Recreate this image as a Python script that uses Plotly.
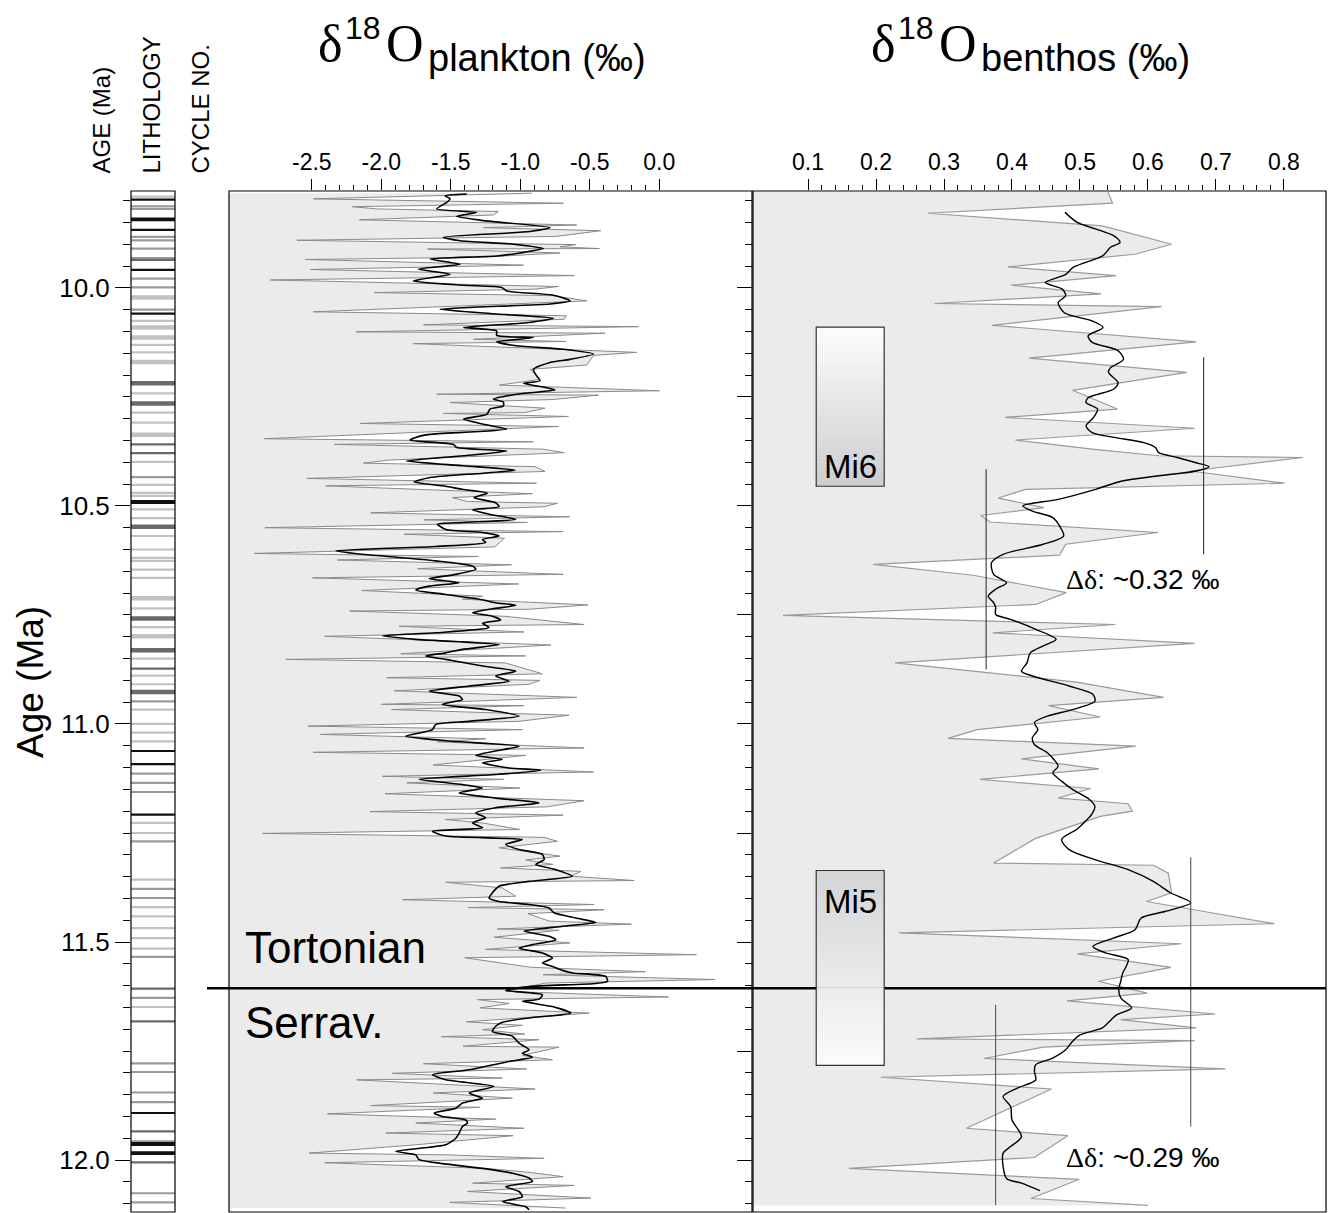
import plotly.graph_objects as go

W, H = 1328, 1213

# ---------------- data ----------------
# Planktonic d18O, raw samples
plank_raw_age = [
    9.783, 9.796, 9.806, 9.814, 9.819, 9.825, 9.833, 9.844, 9.856, 9.862, 9.869, 9.882, 9.891, 9.901,
    9.906, 9.910, 9.911, 9.920, 9.930, 9.935, 9.948, 9.958, 9.972, 9.982, 9.997, 10.003, 10.011, 10.018,
    10.030, 10.055, 10.064, 10.072, 10.085, 10.089, 10.101, 10.104, 10.118, 10.123, 10.128, 10.148, 10.155,
    10.177, 10.187, 10.210, 10.223, 10.236, 10.244, 10.246, 10.256, 10.263, 10.276, 10.286, 10.288, 10.295,
    10.311, 10.318, 10.346, 10.353, 10.359, 10.370, 10.378, 10.395, 10.402, 10.410, 10.421, 10.437,
    10.448, 10.454, 10.472, 10.481, 10.490, 10.494, 10.502, 10.516, 10.525, 10.532, 10.538, 10.550, 10.559,
    10.565, 10.574, 10.594, 10.609, 10.616, 10.624, 10.635, 10.644, 10.657, 10.665, 10.679, 10.694, 10.707,
    10.714, 10.727, 10.737, 10.741, 10.753, 10.772, 10.776, 10.789, 10.799, 10.819, 10.839, 10.844, 10.852,
    10.860, 10.885, 10.894, 10.900, 10.909, 10.924, 10.939, 10.955, 10.958, 10.967, 10.980, 10.994, 11.005,
    11.013, 11.024, 11.034, 11.041, 11.055, 11.065, 11.072, 11.094, 11.110, 11.120, 11.127, 11.135, 11.147,
    11.160, 11.176, 11.190, 11.201, 11.209, 11.219, 11.227, 11.242, 11.251, 11.260,
    11.269, 11.284, 11.303, 11.312, 11.322, 11.330, 11.338, 11.349, 11.359, 11.363, 11.376, 11.395, 11.403,
    11.414, 11.421, 11.426, 11.435, 11.452, 11.459, 11.470, 11.473, 11.489, 11.502, 11.517, 11.529, 11.536,
    11.558, 11.568, 11.575, 11.586, 11.594, 11.613, 11.618, 11.626, 11.632, 11.641, 11.651, 11.663, 11.683,
    11.691, 11.701, 11.711, 11.717, 11.724, 11.739, 11.741, 11.760, 11.770, 11.779, 11.791, 11.801, 11.812,
    11.816, 11.837, 11.846, 11.858, 11.875, 11.879, 11.894, 11.906, 11.915, 11.927, 11.938, 11.944, 11.965,
    11.984, 11.988, 11.996, 12.006, 12.019, 12.028, 12.038, 12.053, 12.058, 12.072, 12.087, 12.097, 12.110,
]
plank_raw_d18o = [
    -0.918, -2.488, -0.690, -2.208, -2.033, -1.158, -1.194, -2.158, -0.594, -1.265, -0.421, -0.738, -2.608, -0.601,
    -0.714, -0.431, -1.668, -0.714, -1.289, -2.548, -0.978, -2.512, -0.611, -2.800, -0.726, -0.894, -2.050, -0.762,
    -0.522, -2.488, -0.671, -0.683, -1.697, -0.150, -2.182, -0.390, -1.337, -0.671, -1.769, -0.162, -0.474,
    -0.522, -0.930, -0.858, -1.150, 0.001, -1.601, -0.438, -0.762, -1.505, -0.822, -0.966, -1.553, -0.654,
    -2.153, -0.726, -2.841, -0.906, -2.337, -0.834, -0.683, -1.949, -2.129, -0.894, -0.822, -2.536,
    -0.884, -2.400, -0.913, -1.488, -1.380, -0.733, -0.829, -2.076, -0.644, -1.692, -0.949, -2.838, -0.692,
    -1.836, -1.114, -1.184, -2.915, -1.301, -2.316, -1.064, -1.740, -0.692, -2.495, -1.014, -2.141, -1.272,
    -1.416, -0.512, -0.937, -2.227, -1.117, -0.541, -1.872, -0.973, -2.407, -0.781, -1.860, -0.961, -2.687,
    -1.109, -0.841, -1.961, -0.860, -0.937, -1.908, -0.594, -1.999, -0.973, -1.927, -0.649, -1.009, -2.527,
    -0.985, -2.440, -1.249, -1.596, -0.541, -2.491, -0.961, -1.627, -0.474, -1.992, -1.121, -1.817, -1.002,
    -1.973, -0.541, -0.805, -2.081, -0.692, -1.541, -1.272, -1.002, -2.855, -0.829,
    -0.733, -1.153, -0.714, -0.961, -0.764, -1.141, -0.565, -0.637, -0.181, -1.536, -1.129, -1.033, -1.848,
    -0.469, -1.373, -0.397, -0.944, -0.793, -0.201, -1.165, -0.721, -1.189, -0.644, -1.253, 0.267, -1.400,
    -0.920, -0.102, -0.836, 0.399, -0.817, -1.105, -0.649, 0.066, -1.308, -1.081, -1.289, -0.505, -1.388,
    -0.985, -1.272, -0.968, -1.567, -0.865, -1.412, -0.721, -0.985, -0.769, -1.697, -0.954, -1.920, -1.129,
    -2.177, -0.894, -1.627, -1.057, -2.076, -1.292, -2.388, -1.177, -1.752, -0.973, -1.968, -1.052, -1.752,
    -2.519, -1.524, -0.829, -2.407, -1.249, -0.937, -0.692, -1.344, -0.613, -1.380, -0.493, -1.508, -0.673,
]

# Planktonic d18O, smoothed record
plank_smooth_age = [
    9.785, 9.789, 9.796, 9.804, 9.819, 9.827, 9.836, 9.846, 9.862, 9.871, 9.884, 9.892, 9.900, 9.910, 9.920,
    9.927, 9.934, 9.946, 9.957, 9.969, 9.984, 9.994, 9.999, 10.007, 10.017, 10.030, 10.037, 10.049, 10.060,
    10.070, 10.080, 10.091, 10.099, 10.109, 10.114, 10.124, 10.133, 10.141, 10.152, 10.164, 10.171, 10.187,
    10.202, 10.213, 10.219, 10.229, 10.234, 10.244, 10.255, 10.262, 10.271, 10.278, 10.290, 10.301, 10.313,
    10.324, 10.336, 10.340, 10.349, 10.359, 10.366, 10.374, 10.385, 10.397, 10.408, 10.418, 10.425, 10.435,
    10.445, 10.454, 10.462, 10.471, 10.481, 10.493, 10.502, 10.509, 10.519, 10.531, 10.538, 10.542, 10.554,
    10.561, 10.569, 10.577, 10.584, 10.593, 10.603, 10.611, 10.619, 10.626, 10.638, 10.645, 10.657, 10.667,
    10.676, 10.684, 10.693, 10.703, 10.714, 10.722, 10.728, 10.736, 10.745, 10.753, 10.762, 10.769, 10.779,
    10.791, 10.798, 10.806, 10.818, 10.829, 10.837, 10.844, 10.852, 10.867, 10.879, 10.890, 10.902, 10.913,
    10.925, 10.936, 10.944, 10.955, 10.967, 10.982, 10.994, 11.001, 11.013, 11.028, 11.039, 11.051, 11.062,
    11.072, 11.081, 11.089, 11.101, 11.106, 11.116, 11.127, 11.139, 11.147, 11.158, 11.170, 11.181, 11.192,
    11.204, 11.215, 11.227, 11.238, 11.246, 11.257,
    11.265, 11.276, 11.288, 11.299, 11.311, 11.322, 11.334, 11.349, 11.361, 11.372, 11.387, 11.399, 11.407,
    11.414, 11.422, 11.433, 11.445, 11.455, 11.464, 11.475, 11.487, 11.495, 11.506, 11.514, 11.525, 11.537,
    11.548, 11.556, 11.565, 11.571, 11.579, 11.590, 11.595, 11.602, 11.611, 11.621, 11.631, 11.636, 11.648,
    11.663, 11.674, 11.684, 11.693, 11.705, 11.716, 11.732, 11.747, 11.755, 11.764, 11.774, 11.793, 11.804,
    11.816, 11.831, 11.846, 11.858, 11.869, 11.881, 11.892, 11.900, 11.908, 11.915, 11.923, 11.938, 11.950,
    11.965, 11.980, 11.988, 11.999, 12.007, 12.019, 12.030, 12.041, 12.049, 12.061, 12.072, 12.084, 12.095,
    12.107, 12.114,
]
plank_smooth_d18o = [
    -1.385, -1.541, -1.505, -1.529, -1.601, -1.313, -1.457, -1.265, -0.786, -0.930, -1.553, -1.433, -1.050, -0.834, -1.002,
    -1.170, -1.649, -1.433, -1.733, -1.505, -1.769, -1.409, -1.134, -1.098, -0.762, -0.642, -0.786, -1.577, -1.170,
    -0.762, -0.954, -1.409, -1.170, -1.170, -0.906, -1.170, -1.026, -0.690, -0.474, -0.642, -0.786, -0.906,
    -0.882, -0.858, -0.978, -0.810, -0.750, -1.026, -1.194, -1.122, -1.122, -1.218, -1.241, -1.409, -1.265,
    -1.098, -1.649, -1.721, -1.793, -1.481, -1.457, -1.098, -1.409, -1.817, -1.409, -1.038, -1.265, -1.649,
    -1.764, -1.560, -1.416, -1.237, -1.332, -1.177, -1.153, -1.344, -1.225, -1.033, -1.416, -1.596, -1.536,
    -1.272, -1.153, -1.272, -1.249, -1.608, -2.328, -2.136, -1.848, -1.608, -1.344, -1.320, -1.464, -1.656,
    -1.440, -1.656, -1.752, -1.536, -1.296, -1.177, -1.033, -1.201, -1.344, -1.201, -1.141, -1.272, -1.225,
    -1.608, -1.992, -1.752, -1.153, -1.416, -1.536, -1.680, -1.536, -1.272, -1.033, -1.177, -1.081, -1.368,
    -1.656, -1.440, -1.416, -1.560, -1.249, -1.009, -1.368, -1.608, -1.632, -1.824, -1.512, -1.009, -1.177,
    -1.320, -1.129, -1.272, -1.081, -0.853, -1.177, -1.728, -1.416, -1.272, -1.440, -1.177, -0.865, -1.177,
    -1.320, -1.249, -1.344, -1.272, -1.632, -1.536,
    -0.985, -1.105, -1.009, -0.841, -0.829, -0.889, -0.745, -0.625, -0.937, -1.153, -1.201, -1.225, -1.153,
    -0.937, -0.793, -0.757, -0.601, -0.457, -0.697, -0.973, -0.793, -0.745, -0.913, -1.009, -0.841, -0.769,
    -0.841, -0.769, -0.697, -0.625, -0.385, -0.373, -0.457, -0.937, -1.105, -0.841, -0.865, -0.985, -0.769,
    -0.637, -0.937, -1.129, -1.177, -1.201, -1.057, -1.009, -0.937, -0.985, -0.913, -1.081, -1.368, -1.632,
    -1.536, -1.189, -1.368, -1.272, -1.416, -1.464, -1.620, -1.560, -1.392, -1.380, -1.416, -1.440, -1.464,
    -1.536, -1.896, -1.752, -1.728, -1.584, -1.272, -1.057, -0.937, -0.913, -1.105, -1.009, -0.985, -1.129,
    -0.961, -0.937,
]

# Benthic d18O, raw samples
benth_raw_age = [
    9.780, 9.806, 9.829, 9.858, 9.900, 9.923, 9.952, 9.972, 9.994, 10.014, 10.036, 10.043, 10.086, 10.124,
    10.161, 10.194, 10.235, 10.278, 10.297, 10.322, 10.349, 10.370, 10.385, 10.389, 10.420, 10.448, 10.462,
    10.482, 10.504, 10.522, 10.537, 10.561, 10.588, 10.613, 10.634, 10.659, 10.699, 10.726, 10.751, 10.772,
    10.791, 10.815, 10.860, 10.904, 10.939, 10.958, 10.984, 11.013, 11.033, 11.051, 11.080, 11.103, 11.127,
    11.148, 11.170, 11.183, 11.200, 11.212, 11.263, 11.319, 11.324, 11.342, 11.387, 11.407, 11.426, 11.458,
    11.479, 11.504, 11.527, 11.558, 11.590, 11.617, 11.635, 11.665, 11.678, 11.697, 11.722, 11.726, 11.741,
    11.767, 11.791, 11.810, 11.837, 11.927, 11.944, 11.994, 12.019, 12.044, 12.088, 12.104,
]
benth_raw_d18o = [
    0.541, 0.548, 0.276, 0.533, 0.635, 0.581, 0.394, 0.553, 0.399, 0.531, 0.286, 0.620, 0.371, 0.671,
    0.425, 0.657, 0.489, 0.555, 0.390, 0.669, 0.405, 0.518, 0.616, 0.828, 0.663, 0.801, 0.420,
    0.380, 0.447, 0.354, 0.368, 0.615, 0.479, 0.470, 0.196, 0.343, 0.480, 0.435, 0.063, 0.552,
    0.372, 0.669, 0.228, 0.495, 0.623, 0.454, 0.530, 0.349, 0.306, 0.582, 0.414, 0.528, 0.353,
    0.516, 0.468, 0.571, 0.577, 0.530, 0.434, 0.373, 0.608, 0.630, 0.635, 0.598, 0.668, 0.786,
    0.234, 0.649, 0.496, 0.634, 0.527, 0.599, 0.481, 0.699, 0.560, 0.671, 0.260, 0.669, 0.446,
    0.359, 0.714, 0.207, 0.458, 0.333, 0.482, 0.433, 0.160, 0.499, 0.428, 0.600,
]

# Benthic d18O, smoothed record
benth_smooth_age = [
    9.827, 9.850, 9.865, 9.881, 9.896, 9.907, 9.926, 9.953, 9.969, 9.988, 10.003, 10.018, 10.034, 10.057,
    10.076, 10.091, 10.110, 10.125, 10.144, 10.164, 10.183, 10.194, 10.217, 10.232, 10.252, 10.263, 10.278,
    10.297, 10.317, 10.332, 10.343, 10.355, 10.366, 10.378, 10.389, 10.401, 10.410, 10.420, 10.431, 10.443,
    10.462, 10.485, 10.500, 10.512, 10.527, 10.546, 10.569, 10.588, 10.611, 10.630, 10.657, 10.676, 10.691,
    10.707, 10.722, 10.733, 10.749, 10.760, 10.783, 10.806, 10.821, 10.837, 10.860, 10.879, 10.890, 10.913,
    10.932, 10.948, 10.967, 10.982, 10.997, 11.013, 11.032, 11.047, 11.066, 11.082, 11.097, 11.112, 11.131,
    11.150, 11.173, 11.189, 11.208, 11.223, 11.242, 11.265, 11.288, 11.311, 11.334, 11.361, 11.387, 11.410,
    11.430, 11.445, 11.472, 11.491, 11.510, 11.525, 11.540, 11.556, 11.571, 11.590, 11.609, 11.628, 11.651,
    11.667, 11.678, 11.697, 11.713, 11.728, 11.747, 11.766, 11.781, 11.797, 11.816, 11.835, 11.854, 11.877,
    11.908, 11.946, 11.969, 11.984, 12.015, 12.042, 12.053, 12.070,
]
benth_smooth_d18o = [
    0.478, 0.496, 0.523, 0.550, 0.559, 0.545, 0.534, 0.490, 0.479, 0.449, 0.474, 0.479, 0.468, 0.477,
    0.518, 0.534, 0.512, 0.518, 0.556, 0.564, 0.545, 0.542, 0.556, 0.550, 0.512, 0.509, 0.526,
    0.520, 0.509, 0.518, 0.550, 0.594, 0.611, 0.616, 0.643, 0.671, 0.690, 0.671, 0.616, 0.562,
    0.523, 0.468, 0.416, 0.430, 0.460, 0.470, 0.476, 0.446, 0.387, 0.370, 0.373, 0.392, 0.376,
    0.365, 0.373, 0.376, 0.376, 0.398, 0.435, 0.465, 0.446, 0.427, 0.422, 0.414, 0.430, 0.484,
    0.519, 0.522, 0.489, 0.452, 0.433, 0.438, 0.430, 0.433, 0.452, 0.462, 0.468, 0.460, 0.473,
    0.489, 0.514, 0.522, 0.517, 0.508, 0.495, 0.473, 0.484, 0.522, 0.571, 0.608, 0.633, 0.663,
    0.625, 0.590, 0.581, 0.549, 0.519, 0.538, 0.571, 0.568, 0.563, 0.560, 0.557, 0.560, 0.576,
    0.554, 0.546, 0.533, 0.500, 0.489, 0.479, 0.460, 0.435, 0.433, 0.435, 0.408, 0.387, 0.398,
    0.400, 0.414, 0.398, 0.387, 0.387, 0.392, 0.414, 0.441,
]

# Lithology column: ages of bands by type
litho_light = [9.791, 10.076, 10.131, 10.148, 10.242, 10.286, 10.309, 10.399, 10.452, 10.470, 10.477, 10.508,
               10.528, 10.569, 10.600, 10.619, 10.626, 10.646, 10.665, 10.735, 10.778, 10.850, 10.889, 10.909,
               10.967, 11.000, 11.020, 11.040, 11.227, 11.250, 11.357, 11.420, 11.441, 11.468, 11.491, 11.515,
               11.649]
litho_light_thick = [10.022, 10.091, 10.114, 10.170, 10.337, 10.712, 10.799]
litho_grey = [9.813, 9.819, 9.883, 9.891, 9.910, 9.932, 9.979, 9.999, 10.050, 10.434, 10.948, 11.114, 11.135,
              11.156, 11.269, 11.378, 11.399, 11.534, 11.628, 11.778, 11.798, 11.845, 11.867, 11.957, 12.076,
              12.097]
litho_dark = [9.936, 10.359, 10.379, 10.873, 11.607, 11.682, 11.934, 12.005]
litho_dark_thick = [10.219, 10.265, 10.548, 10.758, 10.831, 10.927]
litho_black = [9.798, 9.841, 9.845, 9.867, 9.959, 10.059, 11.062, 11.092, 11.208, 11.892, 11.982, 11.986]
litho_black_thick = [10.491, 11.963]

# Sedimentary cycle numbers
cycle_labels = ["0", "-10", "-17", "-26", "-34", "-38", "-43", "-51", "-59", "-63", "-72", "-75", "-78", "-84", "-89"]
cycle_ages = [9.799, 10.021, 10.171, 10.400, 10.567, 10.664, 10.797, 10.965, 11.160, 11.268, 11.533, 11.607,
              11.680, 11.933, 12.096]

# Axis ticks
age_major = [10.0, 10.25, 10.5, 10.75, 11.0, 11.25, 11.5, 11.75, 12.0]
age_labels = ["10.0", "", "10.5", "", "11.0", "", "11.5", "", "12.0"]
plank_ticks = [-2.5, -2.0, -1.5, -1.0, -0.5, 0.0]
benth_ticks = [0.1, 0.2, 0.3, 0.4, 0.5, 0.6, 0.7, 0.8]

# Events / annotations
boundary_age = 11.606           # Tortonian / Serravallian boundary
mi6_ages = [10.090, 10.455]
mi5_ages = [11.336, 11.783]
mi_box_d18o = [0.112, 0.212]
delta1_x = [0.362, 0.682]
delta1_top = [10.416, 10.159]
delta1_bot = [10.875, 10.611]
delta2_x = [0.376, 0.663]
delta2_top = [11.644, 11.306]
delta2_bot = [12.103, 11.923]

# ---------------- layout geometry ----------------
AGE_RANGE = [12.119, 9.778]
PL_RANGE = [-3.096, 0.667]
BE_RANGE = [0.019, 0.862]
Y_DOM = [1 - 1212 / H, 1 - 191 / H]
SANS = "Liberation Sans, Arial, sans-serif"
SERIF = "Liberation Serif, Times New Roman, serif"


def px(x):
    return x / W


def py(y):
    return 1 - y / H


fig = go.Figure()

# lithology bands
def seg(ages):
    xs, ys = [], []
    for a in ages:
        xs += [0, 1, None]
        ys += [a, a, None]
    return xs, ys

for ages, col, wid in [(litho_light, "#c2c2c2", 2.2), (litho_light_thick, "#c2c2c2", 4.5),
                       (litho_grey, "#9a9a9a", 2.2), (litho_dark, "#6a6a6a", 2.2),
                       (litho_dark_thick, "#6a6a6a", 4.5), (litho_black, "#111111", 2.2),
                       (litho_black_thick, "#111111", 4)]:
    xs, ys = seg(ages)
    fig.add_trace(go.Scatter(x=xs, y=ys, xaxis="x3", yaxis="y", mode="lines",
                             line=dict(color=col, width=wid), hoverinfo="skip", showlegend=False))

fig.add_trace(go.Scatter(x=[1.06] * len(cycle_ages), y=cycle_ages, text=cycle_labels, mode="text",
                         textposition="middle right", xaxis="x3", yaxis="y", cliponaxis=False,
                         textfont=dict(family=SANS, size=16, color="black"), showlegend=False, hoverinfo="skip"))

# plankton panel
fig.add_trace(go.Scatter(x=[PL_RANGE[0]] * len(plank_raw_age), y=plank_raw_age, xaxis="x", yaxis="y",
                         mode="lines", line=dict(width=0, color="rgba(0,0,0,0)"), showlegend=False, hoverinfo="skip"))
fig.add_trace(go.Scatter(x=plank_raw_d18o, y=plank_raw_age, xaxis="x", yaxis="y", mode="lines",
                         fill="tonextx", fillcolor="#ebebeb", line=dict(color="#8a8a8a", width=1),
                         showlegend=False))
fig.add_trace(go.Scatter(x=plank_smooth_d18o, y=plank_smooth_age, xaxis="x", yaxis="y", mode="lines",
                         line=dict(color="black", width=1.6, shape="spline", smoothing=0.6), showlegend=False))

# benthos panel
fig.add_trace(go.Scatter(x=[BE_RANGE[0]] * len(benth_raw_age), y=benth_raw_age, xaxis="x2", yaxis="y2",
                         mode="lines", line=dict(width=0, color="rgba(0,0,0,0)"), showlegend=False, hoverinfo="skip"))
fig.add_trace(go.Scatter(x=benth_raw_d18o, y=benth_raw_age, xaxis="x2", yaxis="y2", mode="lines",
                         fill="tonextx", fillcolor="#ebebeb", line=dict(color="#9a9a9a", width=1.2),
                         showlegend=False))
fig.add_trace(go.Scatter(x=benth_smooth_d18o, y=benth_smooth_age, xaxis="x2", yaxis="y2", mode="lines",
                         line=dict(color="black", width=1.4, shape="spline", smoothing=0.8), showlegend=False))

shapes = []
# panel frames
for xr, yr in [("x3 domain", "y domain"), ("x domain", "y domain"), ("x2 domain", "y2 domain")]:
    shapes.append(dict(type="rect", xref=xr, yref=yr, x0=0, x1=1, y0=0, y1=1,
                       line=dict(color="black", width=1.2), fillcolor="rgba(0,0,0,0)", layer="above"))

# delta lines
for xs, tops, bots, col in [(delta1_x, delta1_top, delta1_bot, "#222222"), (delta2_x, delta2_top, delta2_bot, "#444444")]:
    for xv, t, b in zip(xs, tops, bots):
        shapes.append(dict(type="line", xref="x2", yref="y2", x0=xv, x1=xv, y0=t, y1=b,
                           line=dict(color=col, width=1), layer="above"))

# stage boundary
shapes.append(dict(type="line", xref="paper", yref="y", x0=px(207), x1=px(1326), y0=boundary_age, y1=boundary_age,
                   line=dict(color="black", width=2.5), layer="above"))


def hexmix(c1, c2, t):
    a = [int(c1[i:i + 2], 16) for i in (1, 3, 5)]
    b = [int(c2[i:i + 2], 16) for i in (1, 3, 5)]
    return "rgb(%d,%d,%d)" % tuple(round(a[k] + (b[k] - a[k]) * t) for k in range(3))


def grad_box(ages, ctop, cbot, n=40):
    y0, y1 = ages
    for i in range(n):
        t = (i + 0.5) / n
        shapes.append(dict(type="rect", xref="x2", yref="y2", x0=mi_box_d18o[0], x1=mi_box_d18o[1],
                           y0=y0 + (y1 - y0) * i / n, y1=y0 + (y1 - y0) * (i + 1.05) / n,
                           fillcolor=hexmix(ctop, cbot, t), line=dict(width=0), layer="above"))
    shapes.append(dict(type="rect", xref="x2", yref="y2", x0=mi_box_d18o[0], x1=mi_box_d18o[1], y0=y0, y1=y1,
                       line=dict(color="#333333", width=1.2), fillcolor="rgba(0,0,0,0)", layer="above"))


grad_box(mi6_ages, "#fdfdfd", "#cbcccf")
grad_box(mi5_ages, "#d3d4d6", "#fbfbfb")

ann = []
# column headers
for text, xc in [("AGE (Ma)", 101), ("LITHOLOGY", 151), ("CYCLE NO.", 200)]:
    ann.append(dict(text=text, x=px(xc), y=py(176), xref="paper", yref="paper", xanchor="center",
                    yanchor="bottom", textangle=-90, showarrow=False, font=dict(family=SANS, size=24)))
ann.append(dict(text="Age (Ma)", x=px(30), y=py(682), xref="paper", yref="paper", xanchor="center",
                yanchor="middle", textangle=-90, showarrow=False, font=dict(family=SANS, size=37)))

# titles
for left, sub in [(316, "plankton (‰)"), (869, "benthos (‰)")]:
    ann.append(dict(text="δ", x=px(left), y=py(44), xref="paper", yref="paper", xanchor="left",
                    yanchor="middle", showarrow=False, font=dict(family=SERIF, size=52)))
    ann.append(dict(text="18", x=px(left + 27), y=py(28), xref="paper", yref="paper", xanchor="left",
                    yanchor="middle", showarrow=False, font=dict(family=SANS, size=32)))
    ann.append(dict(text="O", x=px(left + 68), y=py(44), xref="paper", yref="paper", xanchor="left",
                    yanchor="middle", showarrow=False, font=dict(family=SERIF, size=52)))
    ann.append(dict(text=sub, x=px(left + 110), y=py(58), xref="paper", yref="paper", xanchor="left",
                    yanchor="middle", showarrow=False, font=dict(family=SANS, size=38)))

ann.append(dict(text="Tortonian", x=px(243), y=py(948), xref="paper", yref="paper", xanchor="left",
                yanchor="middle", showarrow=False, font=dict(family=SANS, size=44)))
ann.append(dict(text="Serrav.", x=px(243), y=py(1022), xref="paper", yref="paper", xanchor="left",
                yanchor="middle", showarrow=False, font=dict(family=SANS, size=44)))
ann.append(dict(text="Mi6", x=sum(mi_box_d18o) / 2, y=mi6_ages[1] - 0.045, xref="x2", yref="y2",
                xanchor="center", yanchor="middle", showarrow=False, font=dict(family=SANS, size=33)))
ann.append(dict(text="Mi5", x=sum(mi_box_d18o) / 2, y=mi5_ages[0] + 0.07, xref="x2", yref="y2",
                xanchor="center", yanchor="middle", showarrow=False, font=dict(family=SANS, size=33)))
for label, yv in [("0.32", 10.668), ("0.29", 11.995)]:
    ann.append(dict(text='<span style="font-family:Liberation Serif">Δδ</span>: ~' + label + " ‰",
                    x=0.1 + (1064 - 808) / 680, y=yv, xref="x2", yref="y2", xanchor="left", yanchor="middle",
                    showarrow=False, font=dict(family=SANS, size=28)))

age_minor = [round(9.8 + 0.05 * i, 2) for i in range(47)]
plank_minor = [round(-2.5 + 0.1 * i, 1) for i in range(26)]
benth_minor = [round(0.1 + 0.02 * i, 2) for i in range(36)]

fig.update_layout(
    width=W, height=H, margin=dict(l=0, r=0, t=0, b=0),
    paper_bgcolor="white", plot_bgcolor="white", showlegend=False,
    font=dict(family=SANS, color="black"),
    shapes=shapes, annotations=ann,
    xaxis=dict(domain=[px(229), px(752)], range=PL_RANGE, anchor="y", side="top",
               tickmode="array", tickvals=plank_ticks, ticktext=["%.1f" % v for v in plank_ticks],
               ticks="outside", ticklen=11, tickwidth=1, tickcolor="black",
               minor=dict(tickmode="array", tickvals=plank_minor, ticks="outside", ticklen=5, tickcolor="black"),
               tickfont=dict(family=SANS, size=23, color="black"), showgrid=False, zeroline=False, showline=False),
    xaxis2=dict(domain=[px(753), px(1326)], range=BE_RANGE, anchor="y2", side="top",
                tickmode="array", tickvals=benth_ticks, ticktext=["%.1f" % v for v in benth_ticks],
                ticks="outside", ticklen=11, tickwidth=1, tickcolor="black",
                minor=dict(tickmode="array", tickvals=benth_minor, ticks="outside", ticklen=5, tickcolor="black"),
                tickfont=dict(family=SANS, size=23, color="black"), showgrid=False, zeroline=False, showline=False),
    xaxis3=dict(domain=[px(131), px(175)], range=[0, 1], anchor="y", showticklabels=False, ticks="",
                showgrid=False, zeroline=False, showline=False),
    yaxis=dict(domain=Y_DOM, range=AGE_RANGE, anchor="x3", side="left",
               tickmode="array", tickvals=age_major, ticktext=age_labels,
               ticks="outside", ticklen=15, tickwidth=1.2, tickcolor="black",
               minor=dict(tickmode="array", tickvals=age_minor, ticks="outside", ticklen=7, tickcolor="black",
                          tickwidth=1.2),
               tickfont=dict(family=SANS, size=26, color="black"), showgrid=False, zeroline=False, showline=False),
    yaxis2=dict(domain=Y_DOM, range=AGE_RANGE, anchor="x2", side="left",
                tickmode="array", tickvals=age_major, showticklabels=False,
                ticks="outside", ticklen=15, tickwidth=1.2, tickcolor="black",
                minor=dict(tickmode="array", tickvals=age_minor, ticks="outside", ticklen=7, tickcolor="black",
                           tickwidth=1.2),
                showgrid=False, zeroline=False, showline=False),
)

fig.write_html("out.html")
